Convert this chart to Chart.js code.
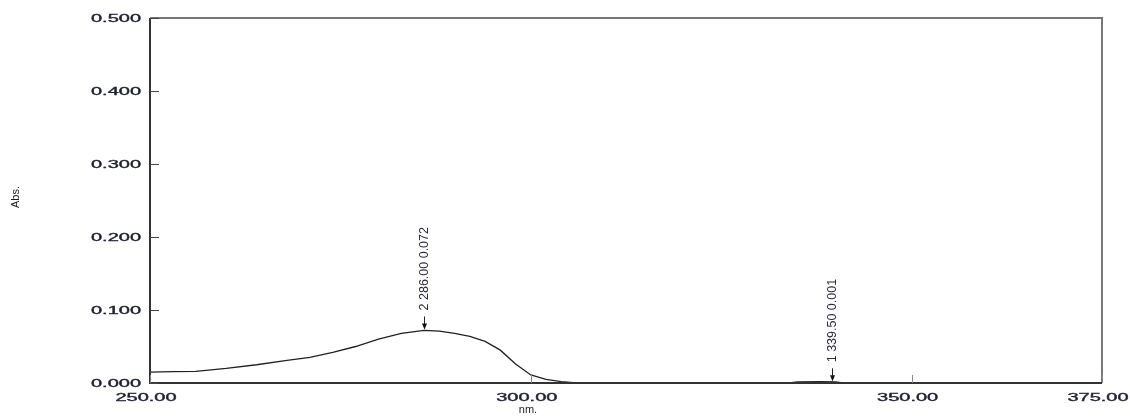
<!DOCTYPE html>
<html>
<head>
<meta charset="utf-8">
<script src="https://cdn.jsdelivr.net/npm/chart.js@4/dist/chart.umd.min.js"></script>
<style>
  html, body { margin: 0; padding: 0; background: #fff; }
  canvas { display: block; }
</style>
</head>
<body>
<canvas id="spectrum" width="1130" height="416"></canvas>
<script>
// wavelength (nm) and absorbance
const wavelengths = [250, 253, 256, 257, 260, 264, 268, 271, 274, 277, 280, 283, 286, 288, 290, 292, 294, 296, 298, 300, 302, 304, 306, 320, 334, 335, 338, 340, 341, 360, 375]
const absorbance = [0.015, 0.0155, 0.016, 0.017, 0.020, 0.025, 0.031, 0.035, 0.042, 0.050, 0.060, 0.068, 0.072, 0.071, 0.068, 0.064, 0.057, 0.045, 0.026, 0.011, 0.005, 0.002, 0.000, 0.000, 0.000, 0.0015, 0.0018, 0.0015, 0.000, 0.000, 0.000]

const xTicks = [250, 300, 350, 375]
const yTicks = [0, 0.1, 0.2, 0.3, 0.4, 0.5]

const peakX = [286, 339.5]
const peakY = [0.072, 0.001]
const peakLabels = ['2 286.00 0.072', '1 339.50 0.001']

const xTitle = 'nm.'
const yTitle = 'Abs.'

const points = wavelengths.map((w, i) => ({ x: w, y: absorbance[i] }))

// frame, inner tick marks, stretched tick labels and peak markers
const decorations = {
  id: 'decorations',
  afterDraw(chart) {
    const ctx = chart.ctx
    const area = chart.chartArea
    const xs = chart.scales.x
    const ys = chart.scales.y

    ctx.save()
    // frame
    ctx.lineWidth = 2
    ctx.strokeStyle = '#777'
    ctx.beginPath()
    ctx.moveTo(area.left, area.top)
    ctx.lineTo(area.right, area.top)
    ctx.lineTo(area.right, area.bottom)
    ctx.stroke()
    ctx.strokeStyle = '#333'
    ctx.beginPath()
    ctx.moveTo(area.left, area.top)
    ctx.lineTo(area.left, area.bottom)
    ctx.lineTo(area.right, area.bottom)
    ctx.stroke()

    // tick marks pointing inwards
    ctx.lineWidth = 1
    ctx.strokeStyle = '#444'
    ys.ticks.forEach((t) => {
      const y = Math.round(ys.getPixelForValue(t.value)) + 0.5
      ctx.beginPath()
      ctx.moveTo(area.left, y)
      ctx.lineTo(area.left + 9, y)
      ctx.stroke()
    })
    ctx.strokeStyle = '#888'
    xs.ticks.forEach((t) => {
      const x = Math.round(xs.getPixelForValue(t.value)) + 0.5
      ctx.beginPath()
      ctx.moveTo(x, area.bottom)
      ctx.lineTo(x, area.bottom - 8)
      ctx.stroke()
    })

    // tick labels, wide face like the instrument printout
    ctx.fillStyle = '#1e2232'
    ctx.strokeStyle = '#1e2232'
    ctx.lineWidth = 0.35
    ctx.font = '10px "Liberation Sans", Arial, sans-serif'
    ctx.textBaseline = 'middle'
    const stretch = 2
    ys.ticks.forEach((t) => {
      const y = ys.getPixelForValue(t.value)
      ctx.save()
      ctx.translate(area.left - 9, y + 1)
      ctx.scale(stretch, 1)
      ctx.textAlign = 'right'
      ctx.fillText(t.value.toFixed(3), 0, 0)
      ctx.strokeText(t.value.toFixed(3), 0, 0)
      ctx.restore()
    })
    xs.ticks.forEach((t) => {
      const x = xs.getPixelForValue(t.value)
      ctx.save()
      ctx.translate(x - 4, area.bottom + 15)
      ctx.scale(stretch, 1)
      ctx.textAlign = 'center'
      ctx.fillText(t.value.toFixed(2), 0, 0)
      ctx.strokeText(t.value.toFixed(2), 0, 0)
      ctx.restore()
    })

    // axis titles
    ctx.font = '11px "Liberation Sans", Arial, sans-serif'
    ctx.fillStyle = '#222'
    ctx.textAlign = 'center'
    ctx.fillText(xTitle, 528, 410)
    ctx.save()
    ctx.translate(16, 197)
    ctx.rotate(-Math.PI / 2)
    ctx.fillText(yTitle, 0, 0)
    ctx.restore()

    // peak markers
    peakX.forEach((px, i) => {
      const x = Math.round(xs.getPixelForValue(px)) + 0.5
      const y = ys.getPixelForValue(peakY[i])
      ctx.strokeStyle = '#222'
      ctx.lineWidth = 1
      ctx.beginPath()
      ctx.moveTo(x, y - 14)
      ctx.lineTo(x, y - 2)
      ctx.stroke()
      ctx.fillStyle = '#111'
      ctx.beginPath()
      ctx.moveTo(x - 2.5, y - 7)
      ctx.lineTo(x + 2.5, y - 7)
      ctx.lineTo(x, y - 1)
      ctx.closePath()
      ctx.fill()

      ctx.save()
      ctx.translate(x, y - 20)
      ctx.rotate(-Math.PI / 2)
      ctx.font = '12.5px "Liberation Sans", Arial, sans-serif'
      ctx.fillStyle = '#2a2a3a'
      ctx.textAlign = 'left'
      ctx.textBaseline = 'middle'
      ctx.fillText(peakLabels[i], 0, 0)
      ctx.restore()
    })
    ctx.restore()
  },
}

new Chart(document.getElementById('spectrum'), {
  type: 'line',
  data: {
    datasets: [
      {
        data: points,
        borderColor: '#222',
        borderWidth: 1.3,
        pointRadius: 0,
        tension: 0,
        fill: false,
      },
    ],
  },
  options: {
    responsive: false,
    animation: false,
    devicePixelRatio: 1,
    layout: { padding: { left: 150, right: 28, top: 18, bottom: 33 } },
    plugins: { legend: { display: false }, tooltip: { enabled: false } },
    scales: {
      x: {
        type: 'linear',
        min: 250,
        max: 375,
        display: false,
        afterBuildTicks: (scale) => {
          scale.ticks = xTicks.map((v) => ({ value: v }))
        },
      },
      y: {
        min: 0,
        max: 0.5,
        display: false,
        afterBuildTicks: (scale) => {
          scale.ticks = yTicks.map((v) => ({ value: v }))
        },
      },
    },
  },
  plugins: [decorations],
})
</script>
</body>
</html>
